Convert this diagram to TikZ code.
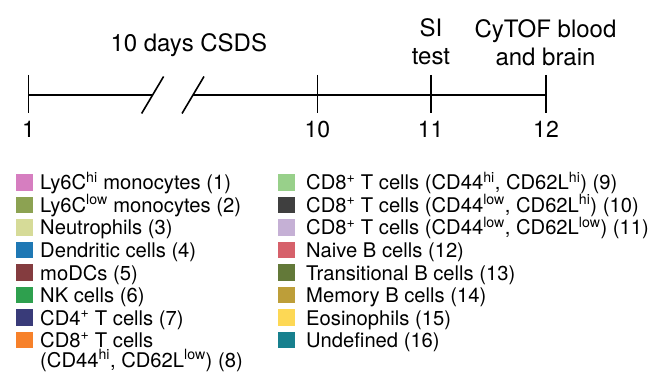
\documentclass[tikz,border=0pt]{standalone}
\usepackage{fontspec}
\setmainfont{TeX Gyre Heros}
\usetikzlibrary{positioning}
\usepackage{xcolor}
\definecolor{lysixhi}{HTML}{D67EC0}
\definecolor{lysixlow}{HTML}{8CA252}
\definecolor{neutro}{HTML}{D6DB98}
\definecolor{dendri}{HTML}{1F78B4}
\definecolor{modc}{HTML}{843C3F}
\definecolor{nkcell}{HTML}{2EA04E}
\definecolor{cdfour}{HTML}{393B79}
\definecolor{cdeightA}{HTML}{F7812A}
\definecolor{cdeightB}{HTML}{98D08A}
\definecolor{cdeightC}{HTML}{3F3F3F}
\definecolor{cdeightD}{HTML}{C5B0D5}
\definecolor{naiveb}{HTML}{D6616B}
\definecolor{transb}{HTML}{637939}
\definecolor{memoryb}{HTML}{BD9E39}
\definecolor{eosino}{HTML}{FDD855}
\definecolor{undef}{HTML}{17808E}
\newcommand{\suphi}{\textsuperscript{hi}}
\newcommand{\suplow}{\textsuperscript{low}}
\newcommand{\supplus}{\textsuperscript{+}}
\tikzset{
    timeline/.style={
        draw,
        line width=1.6pt
    },
    daylabel/.style={
        anchor=base,
        inner sep=0pt,
        font=\fontsize{23}{23}\selectfont
    },
    eventlabel/.style={
        anchor=base,
        align=center,
        inner sep=0pt,
        font=\fontsize{24}{28}\selectfont
    },
    keybox/.style={
        minimum size=16.5pt,
        inner sep=0pt
    },
    keytext/.style={
        anchor=base west,
        align=left,
        inner sep=0pt,
        font=\fontsize{20.2}{19.5}\selectfont
    }
}

\begin{document}
\begin{tikzpicture}[x=1pt,y=-1pt]
  \useasboundingbox (0,0) rectangle (661,379);

  % Timeline
  \coordinate (d1) at (28.5,95);
  \coordinate (d10) at (317.3,95);
  \coordinate (d11) at (430.7,95);
  \coordinate (d12) at (546,95);
  \coordinate (gapL) at (152.6,95);
  \coordinate (gapR) at (193,95);

  \draw[timeline] (d1) -- (gapL);
  \draw[timeline] (gapR) -- (d12);

  % Ticks
  \draw[timeline] ([yshift=20pt]d1) -- ([yshift=-18pt]d1);
  \draw[timeline] ([yshift=20pt]d10) -- ([yshift=-18pt]d10);
  \draw[timeline] ([yshift=20pt]d11) -- ([yshift=-18pt]d11);
  \draw[timeline] ([yshift=20pt]d12) -- ([yshift=-18pt]d12);

  % Break marks
  \draw[timeline] ([shift={(-11,18.5)}]gapL) -- ([shift={(11,-18.5)}]gapL);
  \draw[timeline] ([shift={(-11,18.5)}]gapR) -- ([shift={(11,-18.5)}]gapR);

  % Day numbers
  \node[daylabel] (n1) at (28.5,138) {1};
  \node[daylabel] (n10) at (317.3,138) {10};
  \node[daylabel] (n11) at (430.7,138) {11};
  \node[daylabel] (n12) at (546,138) {12};

  % Events (base = last line)
  \node[eventlabel] (csds) at (188.8,51.7) {10 days CSDS};
  \node[eventlabel] (si) at (431,65) {SI\\test};
  \node[eventlabel] (cytof) at (545.5,66) {CyTOF blood\\and brain};

  % Legend, left column
  \node[keybox, fill=lysixhi] (k1) at (24.5,182.5) {};
  \node[keytext] (t1) at (40,190) {Ly6C\suphi{} monocytes (1)};
  \node[keybox, fill=lysixlow] (k2) at (24.5,205) {};
  \node[keytext] (t2) at (40,212.5) {Ly6C\suplow{} monocytes (2)};
  \node[keybox, fill=neutro] (k3) at (24.5,227.5) {};
  \node[keytext] (t3) at (40,235) {Neutrophils (3)};
  \node[keybox, fill=dendri] (k4) at (24.5,250) {};
  \node[keytext] (t4) at (40,257.5) {Dendritic cells (4)};
  \node[keybox, fill=modc] (k5) at (24.5,272.5) {};
  \node[keytext] (t5) at (40,280) {moDCs (5)};
  \node[keybox, fill=nkcell] (k6) at (24.5,295) {};
  \node[keytext] (t6) at (40,302.5) {NK cells (6)};
  \node[keybox, fill=cdfour] (k7) at (24.5,317.5) {};
  \node[keytext] (t7) at (40,325) {CD4\supplus{} T cells (7)};
  \node[keybox, fill=cdeightA] (k8) at (24.5,340) {};
  \node[keytext] (t8) at (40,367) {CD8\supplus{} T cells\\(CD44\suphi, CD62L\suplow) (8)};

  % Legend, right column
  \node[keybox, fill=cdeightB] (k9) at (286.7,182.5) {};
  \node[keytext] (t9) at (306,190) {CD8\supplus{} T cells (CD44\suphi, CD62L\suphi) (9)};
  \node[keybox, fill=cdeightC] (k10) at (286.7,205) {};
  \node[keytext] (t10) at (306,212.5) {CD8\supplus{} T cells (CD44\suplow, CD62L\suphi) (10)};
  \node[keybox, fill=cdeightD] (k11) at (286.7,227.5) {};
  \node[keytext] (t11) at (306,235) {CD8\supplus{} T cells (CD44\suplow, CD62L\suplow) (11)};
  \node[keybox, fill=naiveb] (k12) at (286.7,250) {};
  \node[keytext] (t12) at (306,257.5) {Naive B cells (12)};
  \node[keybox, fill=transb] (k13) at (286.7,272.5) {};
  \node[keytext] (t13) at (306,280) {Transitional B cells (13)};
  \node[keybox, fill=memoryb] (k14) at (286.7,295) {};
  \node[keytext] (t14) at (306,302.5) {Memory B cells (14)};
  \node[keybox, fill=eosino] (k15) at (286.7,317.5) {};
  \node[keytext] (t15) at (306,325) {Eosinophils (15)};
  \node[keybox, fill=undef] (k16) at (286.7,340) {};
  \node[keytext] (t16) at (306,347.5) {Undefined (16)};
\end{tikzpicture}
\end{document}
